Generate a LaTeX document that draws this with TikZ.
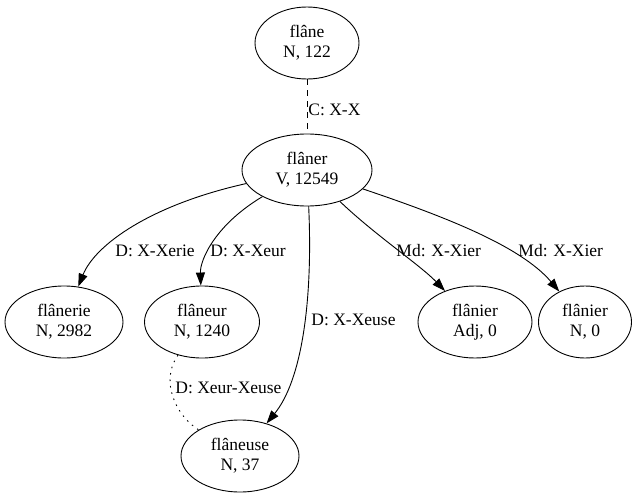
\documentclass[tikz,border=0pt]{standalone}
\usepackage{fontspec}
\setmainfont{Liberation Serif}
\usetikzlibrary{shapes.geometric,arrows.meta}

\begin{document}
\begin{tikzpicture}[x=1pt,y=-1pt,line width=0.9pt,
    font=\fontsize{17.5}{20}\selectfont,
    >={Triangle[length=13pt,width=9pt]}]

        \useasboundingbox (0,0) rectangle (638,501);

        \begin{scope}[every node/.style={ellipse,draw,align=center,inner sep=0pt,minimum height=72pt}]
          \node[minimum width=104pt] (flane)     at (307,43)  {flâne\\N, 122};
          \node[minimum width=130pt] (flaner)    at (307,170) {flâner\\V, 12549};
          \node[minimum width=118pt] (flanerie)  at (64,322)  {flânerie\\N, 2982};
          \node[minimum width=115pt] (flaneur)   at (202,322) {flâneur\\N, 1240};
          \node[minimum width=114pt] (flanierA)  at (475,322) {flânier\\Adj, 0};
          \node[minimum width=93pt]  (flanierN)  at (585,322) {flânier\\N, 0};
          \node[minimum width=118pt] (flaneuse)  at (240,456) {flâneuse\\N, 37};
        \end{scope}

        \begin{scope}[every node/.style={anchor=west,inner sep=0pt}]
          \draw[dash pattern=on 6pt off 5pt] (flane) -- (flaner);
          \draw[->] (flaner) .. controls (150,205) and (95,245) .. (flanerie);
          \draw[->] (flaner) .. controls (215,225) and (200,260) .. (flaneur);
          \draw[->] (flaner) .. controls (313,300) and (302,380) .. (flaneuse);
          \draw[->] (flaner) .. controls (375,235) and (420,265) .. (flanierA);
          \draw[->] (flaner) .. controls (440,215) and (520,245) .. (flanierN);
          \draw[dash pattern=on 1.5pt off 5pt] (flaneur) .. controls (160,380) and (175,415) .. (flaneuse);

          \node (lblC)      at (308,110) {C: X-X};
          \node (lblXerie)  at (115,251) {D: X-Xerie};
          \node (lblXeur)   at (210,251) {D: X-Xeur};
          \node (lblXeuse)  at (311,320) {D: X-Xeuse};
          \node (lblXierA)  at (396,251) {Md: X-Xier};
          \node (lblXierN)  at (518,251) {Md: X-Xier};
          \node (lblXeurX)  at (175,388) {D: Xeur-Xeuse};
        \end{scope}

      \end{tikzpicture}
\end{document}
